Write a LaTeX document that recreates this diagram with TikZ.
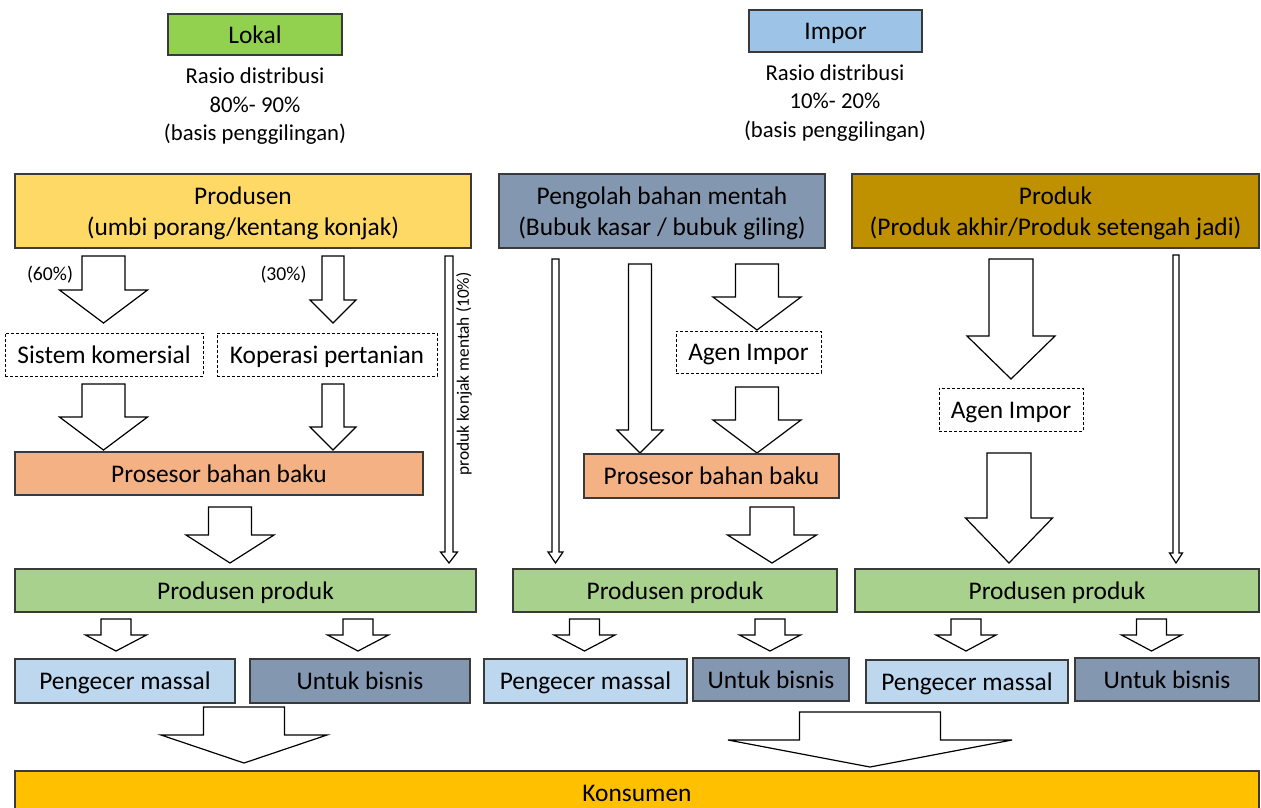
\documentclass[tikz,border=0pt]{standalone}
\usepackage{fontspec}
\setmainfont{Carlito}
\definecolor{cLokal}{HTML}{92D050}
\definecolor{cImpor}{HTML}{9DC3E6}
\definecolor{cProd}{HTML}{FFD966}
\definecolor{cSlate}{HTML}{8497B0}
\definecolor{cGold}{HTML}{BF9000}
\definecolor{cProc}{HTML}{F4B183}
\definecolor{cGreen}{HTML}{A9D18E}
\definecolor{cLight}{HTML}{BDD7EE}
\definecolor{cKons}{HTML}{FFC000}
\definecolor{cLine}{HTML}{3A3A3A}
\newcommand\mainsz{\fontsize{25.4}{31}\selectfont}
\newcommand\smallsz{\fontsize{22.7}{28.5}\selectfont}
\newcommand\pctsz{\fontsize{19.7}{24}\selectfont}
\newcommand\vertsz{\fontsize{17.4}{21}\selectfont}
\tikzset{
  box/.style={draw=cLine, line width=1.2pt, inner sep=0pt, align=center, font=\mainsz, text height=23.4pt, text depth=6.4pt},
  twoline/.style={text height=54.4pt, text depth=6.4pt},
  dbox/.style={draw=black, line width=0.9pt, dash pattern=on 3pt off 2pt, inner sep=0pt, align=center, font=\mainsz, fill=white, text height=23.4pt, text depth=6.4pt},
  blk/.style={draw=black, line width=1.2pt, fill=white, line join=miter},
  plain/.style={inner sep=0pt, align=center}
}
% name, x1, y1, x2, y2, style, text
\newcommand\bx[7]{\node[#6, minimum width={#4pt-#2pt}, minimum height={#5pt-#3pt}] (#1) at ({(#2+#4)/2},{(#3+#5)/2}) {#7};}
% cx, ytop, shaft half, head half, yhead, ytip
\newcommand\blkarrow[6]{\draw[blk] (#1-#3,#2) -- (#1+#3,#2) -- (#1+#3,#5) -- (#1+#4,#5) -- (#1,#6) -- (#1-#4,#5) -- (#1-#3,#5) -- cycle;}
\begin{document}
\begin{tikzpicture}[x=1pt,y=-1pt]
\useasboundingbox (0,0) rectangle (1261,807);
\fill[white] (0,0) rectangle (1261,807);
% headers
\bx{lokal}{168}{14}{342}{55}{box,fill=cLokal}{Lokal}
\bx{impor}{749}{10}{922}{52}{box,fill=cImpor}{Impor}
\node[plain, font=\smallsz] (rasioL) at (255,106.5) {Rasio distribusi\\80\%- 90\%\\(basis penggilingan)};
\node[plain, font=\smallsz] (rasioR) at (835,103) {Rasio distribusi\\10\%- 20\%\\(basis penggilingan)};
% top row
\bx{produsen}{15}{174}{471}{248}{box,twoline,fill=cProd}{Produsen\\(umbi porang/kentang konjak)}
\bx{pengolah}{499}{174}{825}{248}{box,twoline,fill=cSlate}{Pengolah bahan mentah\\(Bubuk kasar / bubuk giling)}
\bx{produk}{852}{174}{1259}{248}{box,twoline,fill=cGold}{Produk\\(Produk akhir/Produk setengah jadi)}
% left column
\node[plain, font=\pctsz] (p60) at (50,274.5) {(60\%)};
\node[plain, font=\pctsz] (p30) at (283.5,274.5) {(30\%)};
\blkarrow{103.5}{256}{21.5}{44}{290}{323}
\blkarrow{333}{256}{11}{23}{300}{323}
\bx{sistem}{5}{333}{203}{376}{dbox}{Sistem komersial}
\bx{koperasi}{217}{333}{437}{376}{dbox}{Koperasi pertanian}
\blkarrow{103.5}{384}{21.5}{44}{417}{450}
\blkarrow{333}{384}{11}{23}{427}{450}
\bx{prosesorL}{15}{452}{423}{495}{box,fill=cProc}{Prosesor bahan baku}
\blkarrow{230}{507}{21.5}{44}{535}{563}
\blkarrow{449}{256}{4}{8.5}{552}{563}
\node[plain, font=\vertsz, rotate=90] (mentah) at (464,374) {produk konjak mentah (10\%)};
\bx{ppL}{15}{569}{476}{612}{box,fill=cGreen}{Produsen produk}
\blkarrow{116}{619}{15}{30.5}{635}{651}
\blkarrow{358}{619}{15}{30.5}{635}{651}
\bx{pmL}{15}{659}{235}{703}{box,fill=cLight}{Pengecer massal}
\bx{ubL}{250}{659}{470}{703}{box,fill=cSlate}{Untuk bisnis}
\blkarrow{244}{707}{40.5}{83}{735}{763}
% middle column
\blkarrow{555.5}{259}{3.5}{7.5}{552}{563}
\blkarrow{640}{264}{11.5}{23}{430}{453}
\blkarrow{757}{264}{21.5}{44}{297}{330}
\bx{agenM}{676}{331}{821}{373}{dbox}{Agen Impor}
\blkarrow{757}{387}{21.5}{44}{420}{453}
\bx{prosesorM}{584}{454}{839}{498}{box,fill=cProc}{Prosesor bahan baku}
\blkarrow{772}{507}{22}{44.5}{535}{563}
\bx{ppM}{513}{569}{837}{612}{box,fill=cGreen}{Produsen produk}
\blkarrow{584.5}{619}{15}{30.5}{635}{651}
\blkarrow{770}{619}{15}{30.5}{635}{651}
\bx{pmM}{484}{659}{687}{703}{box,fill=cLight}{Pengecer massal}
\bx{ubM}{693}{658}{849}{701}{box,fill=cSlate}{Untuk bisnis}
\blkarrow{870}{712}{70.5}{142}{740}{767}
% right column
\blkarrow{1011}{259}{22}{44}{336}{379}
\bx{agenR}{939}{388}{1083}{431}{dbox}{Agen Impor}
\blkarrow{1009}{453}{22}{43.5}{518}{563}
\blkarrow{1176}{255}{3}{6.5}{553}{563}
\bx{ppR}{855}{569}{1259}{612}{box,fill=cGreen}{Produsen produk}
\blkarrow{966}{619}{15}{30}{635}{651}
\blkarrow{1151.5}{619}{15}{30}{635}{651}
\bx{pmR}{866}{660}{1068}{703}{box,fill=cLight}{Pengecer massal}
\bx{ubR}{1075}{658}{1259}{701}{box,fill=cSlate}{Untuk bisnis}
% consumer
\bx{konsumen}{15}{771}{1259}{815}{box,fill=cKons}{Konsumen}
\end{tikzpicture}
\end{document}
